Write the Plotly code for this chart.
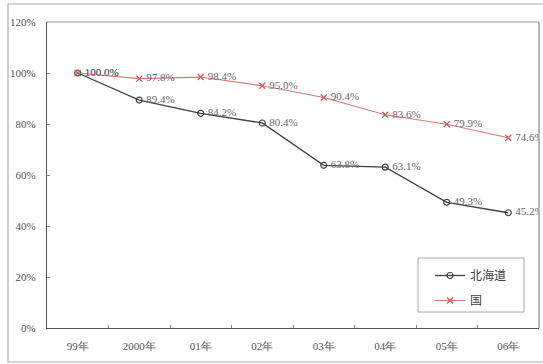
import plotly.graph_objects as go

# Fiscal years on the category axis
years = ["99年", "2000年", "01年", "02年", "03年", "04年", "05年", "06年"]

# Index relative to 1999 (= 100%)
hokkaido = [100.0, 89.4, 84.2, 80.4, 63.8, 63.1, 49.3, 45.2]
national = [100.0, 97.8, 98.4, 95.0, 90.4, 83.6, 79.9, 74.6]

y_ticks = [0, 20, 40, 60, 80, 100, 120]

SERIF = "Liberation Serif"
CJK = "Noto Sans CJK JP"

W, H = 543, 364
ML, MR, MT, MB = 47, 4, 22, 36
PW, PH = W - ML - MR, H - MT - MB


def px_x(x):
    return (x - ML) / PW


def px_y(y):
    return (H - MB - y) / PH


fig = go.Figure()

fig.add_trace(go.Scatter(
    x=years, y=hokkaido, name="北海道", legendgroup="a",
    mode="lines+markers+text",
    text=[f"\u2009{v:.1f}%" for v in hokkaido],
    textposition="middle right",
    textfont=dict(family=SERIF, size=11, color="#6a6a6a"),
    line=dict(color="#404040", width=1.3),
    marker=dict(symbol="circle-open", size=6, color="#404040", line=dict(width=1.2)),
    cliponaxis=True,
))

fig.add_trace(go.Scatter(
    x=years, y=national, name="国", legendgroup="b",
    mode="lines+markers+text",
    text=[f"\u2009{v:.1f}%" for v in national],
    textposition="middle right",
    textfont=dict(family=SERIF, size=11, color="#6a6a6a"),
    line=dict(color="#d67a7a", width=1.1),
    marker=dict(symbol="x-thin", size=6, color="#d25a5a", line=dict(width=1.3, color="#d25a5a")),
    cliponaxis=True,
))

# Outer chart frame, grey top/right edges of the plot box and the legend frame
fig.add_shape(type="rect", xref="paper", yref="paper",
              x0=px_x(8), x1=px_x(560), y0=px_y(362), y1=px_y(4),
              line=dict(color="#b0b0b0", width=1.2), layer="below")
fig.add_shape(type="line", xref="paper", yref="paper",
              x0=0, x1=1, y0=1, y1=1, line=dict(color="#a0a0a0", width=1.2))
fig.add_shape(type="line", xref="paper", yref="paper",
              x0=1, x1=1, y0=0, y1=1, line=dict(color="#a0a0a0", width=1.5))
fig.add_shape(type="rect", xref="paper", yref="paper",
              x0=px_x(418), x1=px_x(524), y0=px_y(312), y1=px_y(258),
              line=dict(color="#a8a8a8", width=1), fillcolor="white", layer="below")

fig.update_layout(
    width=W, height=H,
    margin=dict(l=ML, r=MR, t=MT, b=MB),
    paper_bgcolor="white", plot_bgcolor="rgba(0,0,0,0)",
    showlegend=True,
    legend=dict(
        x=px_x(430), y=px_y(261), xanchor="left", yanchor="top",
        bgcolor="rgba(0,0,0,0)", borderwidth=0,
        font=dict(family=CJK, size=12, color="#444"),
        itemwidth=30, tracegroupgap=6,
    ),
    xaxis=dict(
        type="category", range=[-0.5, 7.5],
        showline=True, linecolor="#555", linewidth=1.3,
        ticks="inside", tickson="boundaries", ticklen=3, tickcolor="#888",
        showgrid=False, zeroline=False,
        tickfont=dict(family=SERIF, size=11, color="#555"),
        ticklabelstandoff=8,
    ),
    yaxis=dict(
        range=[0, 120], tickvals=y_ticks, ticktext=[f"{v}%" for v in y_ticks],
        showline=True, linecolor="#555", linewidth=1.3,
        ticks="inside", ticklen=3, tickcolor="#888",
        showgrid=False, zeroline=False,
        tickfont=dict(family=SERIF, size=11, color="#555"),
        ticklabelstandoff=8,
    ),
)

fig.write_html("out.html")
